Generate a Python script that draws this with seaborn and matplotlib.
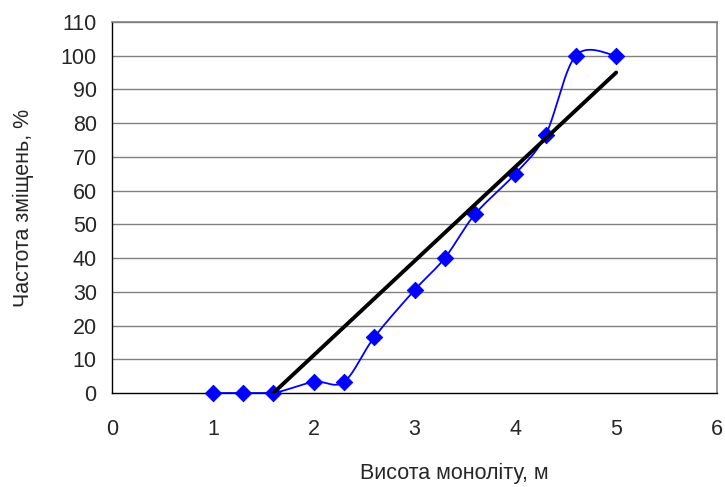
import numpy as np
import pandas as pd
import matplotlib
matplotlib.use("Agg")
import matplotlib.pyplot as plt
import seaborn as sns

# Data
height_m = [1.0, 1.3, 1.6, 2.0, 2.3, 2.6, 3.0, 3.3, 3.6, 4.0, 4.3, 4.6, 5.0]
freq_pct = [0, 0, 0, 3.3, 3.3, 16.5, 30.5, 40, 53, 65, 76.5, 100, 100]
trend_x = [1.6, 5.0]
trend_y = [0, 95]

x_ticks = [0, 1, 2, 3, 4, 5, 6]
y_ticks = list(range(0, 111, 10))

sns.set_style("white")
plt.rcParams['font.family'] = ['Liberation Sans', 'DejaVu Sans']


def smooth_curve(xs, ys, n=30):
    # Excel-style smoothed line: Catmull-Rom through the data points
    xs = np.asarray(xs, float)
    ys = np.asarray(ys, float)
    px = np.concatenate([[xs[0]], xs, [xs[-1]]])
    py = np.concatenate([[ys[0]], ys, [ys[-1]]])
    out_x, out_y = [], []
    t = np.linspace(0, 1, n)
    for i in range(1, len(px) - 2):
        p0x, p1x, p2x, p3x = px[i - 1], px[i], px[i + 1], px[i + 2]
        p0y, p1y, p2y, p3y = py[i - 1], py[i], py[i + 1], py[i + 2]
        c1x, c1y = p1x + (p2x - p0x) / 6, p1y + (p2y - p0y) / 6
        c2x, c2y = p2x - (p3x - p1x) / 6, p2y - (p3y - p1y) / 6
        bx = (1 - t) ** 3 * p1x + 3 * (1 - t) ** 2 * t * c1x + 3 * (1 - t) * t ** 2 * c2x + t ** 3 * p2x
        by = (1 - t) ** 3 * p1y + 3 * (1 - t) ** 2 * t * c1y + 3 * (1 - t) * t ** 2 * c2y + t ** 3 * p2y
        out_x.extend(bx)
        out_y.extend(by)
    return np.array(out_x), np.array(out_y)


fig = plt.figure(figsize=(7.25, 4.87), dpi=100)
ax = fig.add_axes([0.1545, 0.193, 0.8345, 0.762])

df = pd.DataFrame({"x": height_m, "y": freq_pct})
sx, sy = smooth_curve(height_m, freq_pct)
curve = pd.DataFrame({"x": sx, "y": np.maximum(sy, 0)})

for v in y_ticks[1:]:
    ax.axhline(v, color="#808080", lw=1.0, zorder=0)

sns.lineplot(data=curve, x="x", y="y", sort=False, color="#0000FF", lw=1.3, ax=ax, zorder=3)
sns.scatterplot(data=df, x="x", y="y", marker="D", s=70, color="#0000FF",
                edgecolor="#0000FF", ax=ax, zorder=4)
for coll in ax.collections:
    coll.set_clip_on(False)
sns.lineplot(x=trend_x, y=trend_y, color="black", lw=2.8, ax=ax, zorder=5)

ax.set_xlim(0, 6)
ax.set_ylim(0, 110)
ax.set_xticks(x_ticks)
ax.set_yticks(y_ticks)
ax.tick_params(axis="both", direction="out", length=5, width=1, color="black",
               labelsize=15.5)
ax.tick_params(axis="x", pad=14)
ax.tick_params(axis="y", pad=6)

for side in ["top", "right"]:
    ax.spines[side].set_color("#808080")
    ax.spines[side].set_linewidth(1.2)
for side in ["left", "bottom"]:
    ax.spines[side].set_color("black")
    ax.spines[side].set_linewidth(1.0)

ax.set_xlabel("Висота моноліту, м", fontsize=15.5, va="center")
ax.xaxis.set_label_coords(0.566, -0.218)
ax.set_ylabel("Частота зміщень, %", fontsize=15.5, va="center")
ax.yaxis.set_label_coords(-0.147, 0.5)

fig.savefig("out.png", dpi=100)
